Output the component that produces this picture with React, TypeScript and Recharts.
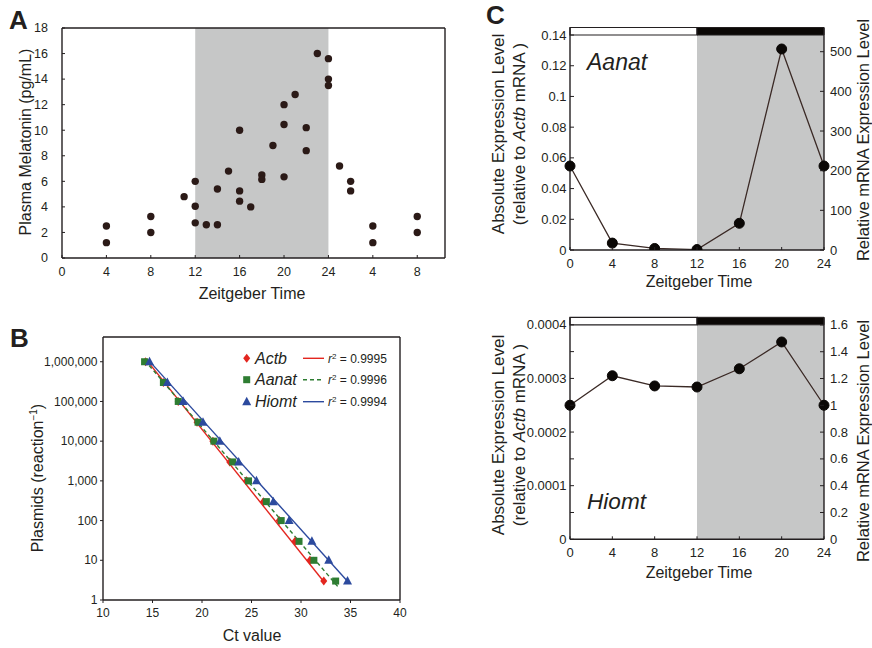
import {
  ComposedChart,
  LineChart,
  ScatterChart,
  Scatter,
  Line,
  XAxis,
  YAxis,
  ReferenceArea,
  ReferenceLine,
} from "recharts"

const INK = "#231f20"
const SHADE = "#c6c7c7"
const FONT = "'Liberation Sans', Arial, sans-serif"

// A: plasma melatonin over the day
const melatoninZT = [4, 4, 8, 8, 11, 12, 12, 12, 13, 14, 14, 15, 16, 16, 16, 17, 18, 18, 19, 20, 20, 20, 21, 22, 22, 23, 24, 24, 24, 25, 26, 26, 28, 28, 32, 32]
const melatoninPg = [2.5, 1.2, 3.25, 2.0, 4.8, 6.0, 4.05, 2.75, 2.6, 5.4, 2.6, 6.8, 10.0, 5.25, 4.45, 4.0, 6.5, 6.15, 8.8, 12.0, 10.45, 6.35, 12.8, 10.2, 8.4, 16.0, 15.6, 14.0, 13.5, 7.2, 6.0, 5.25, 2.5, 1.2, 3.25, 2.0]
const aTicksX = [0, 4, 8, 12, 16, 20, 24, 28, 32]
const aTickLabelsX = ["0", "4", "8", "12", "16", "20", "24", "4", "8"]
const aTicksY = [0, 2, 4, 6, 8, 10, 12, 14, 16, 18]

// B: standard curves
const plasmids = [1e6, 3e5, 1e5, 3e4, 1e4, 3e3, 1e3, 300, 100, 30, 10, 3]
const actbCt = [14.3, 16.1, 17.6, 19.5, 21.1, 22.8, 24.5, 26.2, 27.8, 29.4, 30.9, 32.3]
const aanatCt = [14.2, 16.1, 17.6, 19.6, 21.2, 23.1, 24.7, 26.5, 28.0, 29.8, 31.3, 33.5]
const hiomtCt = [14.7, 16.5, 18.1, 20.1, 21.8, 23.7, 25.5, 27.2, 28.8, 31.1, 32.8, 34.7]
const actbFitCt = [14.35, 32.35]
const actbFitN = [1.15e6, 2.8]
const aanatFitCt = [14.2, 33.7]
const aanatFitN = [1.1e6, 2.2]
const hiomtFitCt = [14.6, 34.9]
const hiomtFitN = [1.1e6, 2.6]
const bTicksX = [10, 15, 20, 25, 30, 35, 40]
const bTicksY = [1, 10, 100, 1000, 10000, 100000, 1000000]
const geneNames = ["Actb", "Aanat", "Hiomt"]
const rSquared = ["0.9995", "0.9996", "0.9994"]

// C: expression over the day
const zt = [0, 4, 8, 12, 16, 20, 24]
const aanatExpr = [0.0547, 0.0045, 0.001, 0.0003, 0.0174, 0.1309, 0.0547]
const hiomtExpr = [0.00025, 0.000305, 0.000286, 0.000284, 0.000318, 0.000368, 0.00025]
const cTicksX = [0, 4, 8, 12, 16, 20, 24]
const aanatTicksL = [0, 0.02, 0.04, 0.06, 0.08, 0.1, 0.12, 0.14]
const aanatLabelsL = ["0", "0.02", "0.04", "0.06", "0.08", "0.1", "0.12", "0.14"]
const aanatTicksR = [0, 100, 200, 300, 400, 500]
const hiomtTicksL = [0, 0.00005, 0.0001, 0.00015, 0.0002, 0.00025, 0.0003, 0.00035, 0.0004]
const hiomtLabelsL = ["0", "", "0.0001", "", "0.0002", "", "0.0003", "", "0.0004"]
const hiomtTicksR = [0, 0.2, 0.4, 0.6, 0.8, 1, 1.2, 1.4, 1.6]
const hiomtLabelsR = ["0", "0.2", "0.4", "0.6", "0.8", "1", "1.2", "1.4", "1.6"]

const melatonin = melatoninZT.map((x, i) => ({ zt: x, pg: melatoninPg[i] }))
const toPts = (cts: number[], ns: number[]) => cts.map((ct, i) => ({ ct, n: ns[i] }))
const actbPts = toPts(actbCt, plasmids)
const aanatPts = toPts(aanatCt, plasmids)
const hiomtPts = toPts(hiomtCt, plasmids)
const actbFit = toPts(actbFitCt, actbFitN)
const aanatFit = toPts(aanatFitCt, aanatFitN)
const hiomtFit = toPts(hiomtFitCt, hiomtFitN)
const expr = zt.map((t, i) => ({ zt: t, aanat: aanatExpr[i], hiomt: hiomtExpr[i] }))

const RED = "#e3261f"
const GREEN = "#2e7d32"
const BLUE = "#2c4a9e"

type Side = "left" | "right" | "bottom"

// len > 0 draws the tick outward, len < 0 inward
function axisTick(side: Side, len: number, gap: number, size: number, label: (v: number) => string) {
  return (p: any) => {
    const { x, y, payload } = p
    const text = label(payload.value)
    if (side === "bottom") {
      return (
        <g>
          <line x1={x} x2={x} y1={y} y2={y + len} stroke={INK} />
          <text x={x} y={y + gap} textAnchor="middle" fontSize={size} fill={INK} fontFamily={FONT}>
            {text}
          </text>
        </g>
      )
    }
    const dir = side === "left" ? -1 : 1
    return (
      <g>
        <line x1={x} x2={x + dir * len} y1={y} y2={y} stroke={INK} />
        <text
          x={x + dir * gap}
          y={y}
          dy="0.35em"
          textAnchor={side === "left" ? "end" : "start"}
          fontSize={size}
          fill={INK}
          fontFamily={FONT}
        >
          {text}
        </text>
      </g>
    )
  }
}

const axisLine = { stroke: INK, strokeWidth: 1.4 }
const noTick = { tickSize: 0, tickMargin: 0, tickLine: false, interval: 0 as const }

const dot = (p: any) => <circle cx={p.cx} cy={p.cy} r={3.7} fill="#2b1a17" />
const diamond = (p: any) => (
  <polygon
    points={`${p.cx},${p.cy - 4.5} ${p.cx + 3.5},${p.cy} ${p.cx},${p.cy + 4.5} ${p.cx - 3.5},${p.cy}`}
    fill={RED}
  />
)
const square = (p: any) => <rect x={p.cx - 3.5} y={p.cy - 3.5} width={7} height={7} fill={GREEN} />
const triangle = (p: any) => (
  <polygon points={`${p.cx},${p.cy - 5} ${p.cx + 4.5},${p.cy + 3.5} ${p.cx - 4.5},${p.cy + 3.5}`} fill={BLUE} />
)
const markers = [diamond, square, triangle]
const lineColors = [RED, GREEN, BLUE]

function PanelA() {
  return (
    <ScatterChart width={460} height={310} margin={{ top: 28, right: 15, bottom: 22, left: 0 }}>
      <ReferenceArea x1={12} x2={24} y1={0} y2={18} fill={SHADE} fillOpacity={1} stroke="none" />
      <XAxis
        type="number"
        dataKey="zt"
        domain={[0, 34.5]}
        ticks={aTicksX}
        height={30}
        axisLine={axisLine}
        {...noTick}
        tick={axisTick("bottom", -3, 18, 12.5, (v) => aTickLabelsX[aTicksX.indexOf(v)])}
      />
      <YAxis
        type="number"
        dataKey="pg"
        domain={[0, 18]}
        ticks={aTicksY}
        width={62}
        axisLine={axisLine}
        {...noTick}
        tick={axisTick("left", -3, 14, 12.5, (v) => String(v))}
      />
      <ReferenceLine y={18} stroke={INK} strokeWidth={1.4} />
      <ReferenceLine x={34.5} stroke={INK} strokeWidth={1.4} />
      <Scatter data={melatonin} shape={dot} isAnimationActive={false} />
    </ScatterChart>
  )
}

function PanelB() {
  const pts = [actbPts, aanatPts, hiomtPts]
  const fits = [actbFit, aanatFit, hiomtFit]
  return (
    <ComposedChart width={420} height={338} margin={{ top: 27, right: 20, bottom: 18, left: 0 }}>
      <XAxis
        type="number"
        dataKey="ct"
        domain={[10, 40]}
        ticks={bTicksX}
        height={30}
        axisLine={axisLine}
        {...noTick}
        tick={axisTick("bottom", 3, 16.5, 12, (v) => String(v))}
      />
      <YAxis
        type="number"
        dataKey="n"
        scale="log"
        domain={[1, 4.2e6]}
        allowDataOverflow
        ticks={bTicksY}
        width={103}
        axisLine={axisLine}
        {...noTick}
        tick={axisTick("left", 3, 5.5, 12, (v) => v.toLocaleString("en-US"))}
      />
      <ReferenceLine y={4.2e6} stroke={INK} strokeWidth={1.4} />
      <ReferenceLine x={40} stroke={INK} strokeWidth={1.4} />
      {fits.map((d, i) => (
        <Line
          key={"fit" + i}
          data={d}
          dataKey="n"
          stroke={lineColors[i]}
          strokeWidth={1.4}
          strokeDasharray={i === 1 ? "4 3" : undefined}
          dot={false}
          isAnimationActive={false}
        />
      ))}
      {pts.map((d, i) => (
        <Scatter key={"pts" + i} data={d} shape={markers[i]} isAnimationActive={false} />
      ))}
    </ComposedChart>
  )
}

function PanelC({
  dataKey,
  ticksL,
  labelsL,
  maxL,
  barL,
  ticksR,
  labelsR,
  maxR,
  height,
  margin,
}: {
  dataKey: string
  ticksL: number[]
  labelsL: string[]
  maxL: number
  barL: number
  ticksR: number[]
  labelsR: string[]
  maxR: number
  height: number
  margin: { top: number; right: number; bottom: number; left: number }
}) {
  return (
    <LineChart width={402} height={height} data={expr} margin={margin}>
      <ReferenceArea yAxisId="left" x1={12} x2={24} y1={0} y2={barL} fill={SHADE} fillOpacity={1} stroke="none" />
      <ReferenceArea yAxisId="left" x1={0} x2={12} y1={barL} y2={maxL} fill="#fff" fillOpacity={1} stroke={INK} strokeWidth={1.2} />
      <ReferenceArea yAxisId="left" x1={12} x2={24} y1={barL} y2={maxL} fill="#0b0806" fillOpacity={1} stroke={INK} />
      <XAxis
        type="number"
        dataKey="zt"
        domain={[0, 24]}
        ticks={cTicksX}
        height={30}
        axisLine={axisLine}
        {...noTick}
        tick={axisTick("bottom", -3, 17.7, 13, (v) => String(v))}
      />
      <YAxis
        yAxisId="left"
        type="number"
        domain={[0, maxL]}
        allowDataOverflow
        ticks={ticksL}
        width={100}
        axisLine={axisLine}
        {...noTick}
        tick={axisTick("left", -4, 3.5, 13, (v) => labelsL[ticksL.indexOf(v)])}
      />
      <YAxis
        yAxisId="right"
        orientation="right"
        type="number"
        domain={[0, maxR]}
        allowDataOverflow
        ticks={ticksR}
        width={48}
        axisLine={axisLine}
        {...noTick}
        tick={axisTick("right", -4, 6, 13, (v) => labelsR[ticksR.indexOf(v)])}
      />
      <Line
        yAxisId="left"
        type="linear"
        dataKey={dataKey}
        stroke="#3b2a26"
        strokeWidth={1.3}
        dot={{ r: 5, fill: "#0b0806", stroke: "#0b0806", strokeWidth: 1 }}
        isAnimationActive={false}
      />
    </LineChart>
  )
}

const titleStyle = { fontFamily: FONT, fontSize: 16, fill: INK }

function VTitle({ x, y, size = 16, children }: { x: number; y: number; size?: number; children: React.ReactNode }) {
  return (
    <text transform={`translate(${x},${y}) rotate(-90)`} dy="0.35em" textAnchor="middle" {...titleStyle} fontSize={size}>
      {children}
    </text>
  )
}

function Overlay() {
  const rows = [358.3, 379.7, 401.7]
  return (
    <svg width={872} height={648} style={{ position: "absolute", left: 0, top: 0, pointerEvents: "none" }}>
      <g fontFamily={FONT} fontWeight="bold" fontSize={26} fill={INK}>
        <text x={9} y={29}>A</text>
        <text x={10} y={347}>B</text>
        <text x={486} y={24}>C</text>
      </g>
      <VTitle x={25} y={142}>Plasma Melatonin (pg/mL)</VTitle>
      <text x={252} y={299} textAnchor="middle" {...titleStyle}>Zeitgeber Time</text>
      <VTitle x={37} y={478}>
        Plasmids (reaction
        <tspan dy={-6} fontSize={10}>−1</tspan>
        <tspan dy={6}>)</tspan>
      </VTitle>
      <text x={252} y={641} textAnchor="middle" {...titleStyle}>Ct value</text>
      {rows.map((y, i) => {
        const Mark = markers[i]
        return (
          <g key={i}>
            <Mark cx={246.7} cy={y} />
            <text x={255} y={y + 5.6} fontSize={16} fontStyle="italic" fontFamily={FONT} fill={INK}>
              {geneNames[i]}
            </text>
            <line
              x1={303}
              x2={324}
              y1={y}
              y2={y}
              stroke={lineColors[i]}
              strokeWidth={1.4}
              strokeDasharray={i === 1 ? "4 3" : undefined}
            />
            <text x={328} y={y + 4.3} fontSize={12} fontFamily={FONT} fill={INK}>
              <tspan fontStyle="italic">r</tspan>
              <tspan dy={-4} fontSize={8}>2</tspan>
              <tspan dy={4}>{" = " + rSquared[i]}</tspan>
            </text>
          </g>
        )
      })}
      {[134, 435].map((cy) => (
        <g key={cy}>
          <VTitle x={498} y={cy} size={17}>Absolute Expression Level</VTitle>
          <VTitle x={519} y={cy} size={17}>
            (relative to <tspan fontStyle="italic">Actb</tspan> mRNA )
          </VTitle>
          <VTitle x={863} y={cy + 6} size={16.5}>Relative mRNA Expression Level</VTitle>
        </g>
      ))}
      <text x={699} y={287} textAnchor="middle" {...titleStyle}>Zeitgeber Time</text>
      <text x={699} y={578} textAnchor="middle" {...titleStyle}>Zeitgeber Time</text>
      <text x={587} y={70} fontSize={23} fontStyle="italic" fontFamily={FONT} fill={INK}>Aanat</text>
      <text x={587} y={509} fontSize={22.6} fontStyle="italic" fontFamily={FONT} fill={INK}>Hiomt</text>
    </svg>
  )
}

export default function App() {
  return (
    <div style={{ position: "absolute", left: 0, top: 0, width: 872, height: 648, background: "#fff" }}>
      <div style={{ position: "absolute", left: 0, top: 0 }}>
        <PanelA />
      </div>
      <div style={{ position: "absolute", left: 0, top: 310 }}>
        <PanelB />
      </div>
      <div style={{ position: "absolute", left: 470, top: 0 }}>
        <PanelC
          dataKey="aanat"
          ticksL={aanatTicksL}
          labelsL={aanatLabelsL}
          maxL={0.1449}
          barL={0.14}
          ticksR={aanatTicksR}
          labelsR={aanatTicksR.map(String)}
          maxR={561}
          height={300}
          margin={{ top: 27.5, right: 0, bottom: 20, left: 0 }}
        />
      </div>
      <div style={{ position: "absolute", left: 470, top: 300 }}>
        <PanelC
          dataKey="hiomt"
          ticksL={hiomtTicksL}
          labelsL={hiomtLabelsL}
          maxL={0.000414}
          barL={0.0004}
          ticksR={hiomtTicksR}
          labelsR={hiomtLabelsR}
          maxR={1.657}
          height={290}
          margin={{ top: 17.3, right: 0, bottom: 20.7, left: 0 }}
        />
      </div>
      <Overlay />
    </div>
  )
}
